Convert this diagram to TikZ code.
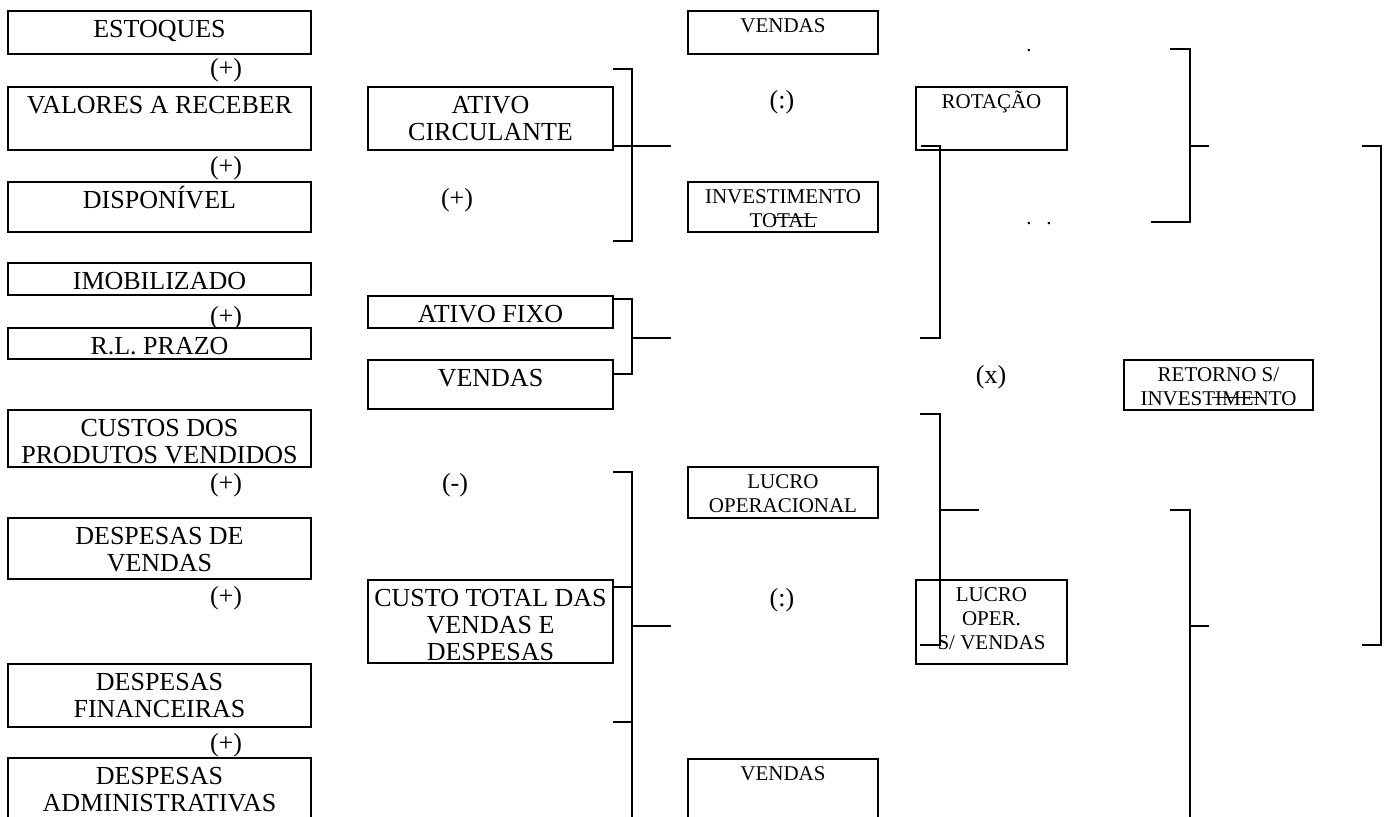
\documentclass[tikz,border=0pt]{standalone}
\usepackage{fontspec}
\setmainfont{Liberation Serif}
\newdimen\pxu \pxu=0.5pt
\newcommand\bigf{\fontsize{13}{13.5}\selectfont\rule{0pt}{13pt}}
\newcommand\smlf{\fontsize{10.5}{12}\selectfont\rule{0pt}{10.5pt}}
\newcommand\mkbox[7]{\node[boxst] (#1) at (#2,#3) {\parbox[c][#5\pxu][t]{#4\pxu}{\centering#6#7}};}
\tikzset{
  boxst/.style={draw, line width=0.7pt, anchor=north west, inner sep=0pt, outer sep=0pt},
  op/.style={font=\fontsize{13}{14}\selectfont, inner sep=0pt, anchor=base},
  dotst/.style={font=\fontsize{10.5}{12}\selectfont, inner sep=0pt, anchor=base},
  brk/.style={line width=0.55pt},
  strk/.style={line width=0.5pt}
}
\begin{document}
\begin{tikzpicture}[x=0.5pt, y=-0.5pt]
\clip (0,0) rectangle (1389,816);
\fill[white] (0,0) rectangle (1389,816);
% column 1
\mkbox{estoques}{8}{11}{303}{43}{\bigf}{ESTOQUES}
\mkbox{valores}{8}{87}{303}{63}{\bigf}{VALORES A RECEBER}
\mkbox{disp}{8}{182}{303}{50}{\bigf}{DISPONÍVEL}
\mkbox{imob}{8}{263}{303}{32}{\bigf}{IMOBILIZADO}
\mkbox{rlp}{8}{328}{303}{31}{\bigf}{R.L. PRAZO}
\mkbox{cpv}{8}{410}{303}{57}{\bigf}{CUSTOS DOS\\PRODUTOS VENDIDOS}
\mkbox{dv}{8}{518}{303}{61}{\bigf}{DESPESAS DE\\VENDAS}
\mkbox{df}{8}{664}{303}{63}{\bigf}{DESPESAS\\FINANCEIRAS}
\mkbox{da}{8}{758}{303}{80}{\bigf}{DESPESAS\\ADMINISTRATIVAS}
% column 2
\mkbox{ac}{368}{87}{245}{63}{\bigf}{ATIVO\\CIRCULANTE}
\mkbox{af}{368}{296}{245}{32}{\bigf}{ATIVO FIXO}
\mkbox{v2}{368}{360}{245}{49}{\bigf}{VENDAS}
\mkbox{ct}{368}{580}{245}{83}{\bigf}{CUSTO TOTAL DAS\\VENDAS E\\DESPESAS}
% column 3
\mkbox{v1}{688}{11}{190}{43}{\smlf}{VENDAS}
\mkbox{it}{688}{182}{190}{50}{\smlf}{INVESTIMENTO\\TOTAL}
\mkbox{lo}{688}{467}{190}{51}{\smlf}{LUCRO\\OPERACIONAL}
\mkbox{v3}{688}{759}{190}{80}{\smlf}{VENDAS}
% column 4
\mkbox{rot}{916}{87}{151}{63}{\smlf}{ROTAÇÃO}
\mkbox{los}{916}{580}{151}{84}{\smlf}{LUCRO\\OPER.\\S/ VENDAS}
% column 5
\mkbox{ret}{1124}{360}{189}{50}{\smlf}{RETORNO S/\\INVESTIMENTO}
% operators
\node[op] (p1) at (226,76.5) {(+)};
\node[op] (p2) at (226,174.5) {(+)};
\node[op] (p3) at (226,324.5) {(+)};
\node[op] (p4) at (226,491.5) {(+)};
\node[op] (p5) at (226,604.5) {(+)};
\node[op] (p6) at (226,751.5) {(+)};
\node[op] (p7) at (457,206.5) {(+)};
\node[op] (m1) at (455,491.5) {(-)};
\node[op] (d1) at (782,108.5) {(:)};
\node[op] (d2) at (782,606.5) {(:)};
\node[op] (x1) at (991,383.5) {(x)};
\node[dotst] (pt1) at (1029,51) {.};
\node[dotst] (pt2) at (1029,224) {.};
\node[dotst] (pt3) at (1049,224) {.};
% brackets, column 2
\coordinate (e1) at (671,146);
\draw[brk] (ac.east |- 0,69) -- (632,69) -- (632,241) -- (ac.east |- 0,241);
\draw[brk] (ac.east |- e1) -- (e1);
\coordinate (e2) at (671,338);
\draw[brk] (af.east |- 0,299) -- (632,299) -- (632,374) -- (v2.east |- 0,374);
\draw[brk] (632,338) -- (e2);
\coordinate (e3) at (671,626);
\draw[brk] (ct.east |- 0,472) -- (632,472) -- (632,830);
\draw[brk] (ct.east |- 0,587) -- (632,587);
\draw[brk] (632,626) -- (e3);
\draw[brk] (ct.east |- 0,722) -- (632,722);
% brackets, right part
\coordinate (e4) at (1209,146);
\draw[brk] (1170,49) -- (1190,49) -- (1190,222) -- (1151,222);
\draw[brk] (1190,146) -- (e4);
\draw[brk] ([xshift=2.5pt]rot.west |- 0,146) -- (940,146) -- (940,338) -- (920,338);
\coordinate (e5) at (979,510);
\draw[brk] (920,414) -- (940,414) -- (940,645) -- (920,645);
\draw[brk] (940,510) -- (e5);
\coordinate (e6) at (1209,626);
\draw[brk] (1170,510) -- (1190,510) -- (1190,830);
\draw[brk] (1190,626) -- (e6);
\draw[brk] (1362,146) -- (1381,146) -- (1381,645) -- (1362,645);
% stray strokes over text
\draw[strk] (773,217) -- (817,217);
\draw[strk] (1212,397) -- (1259,397);
\end{tikzpicture}
\end{document}
